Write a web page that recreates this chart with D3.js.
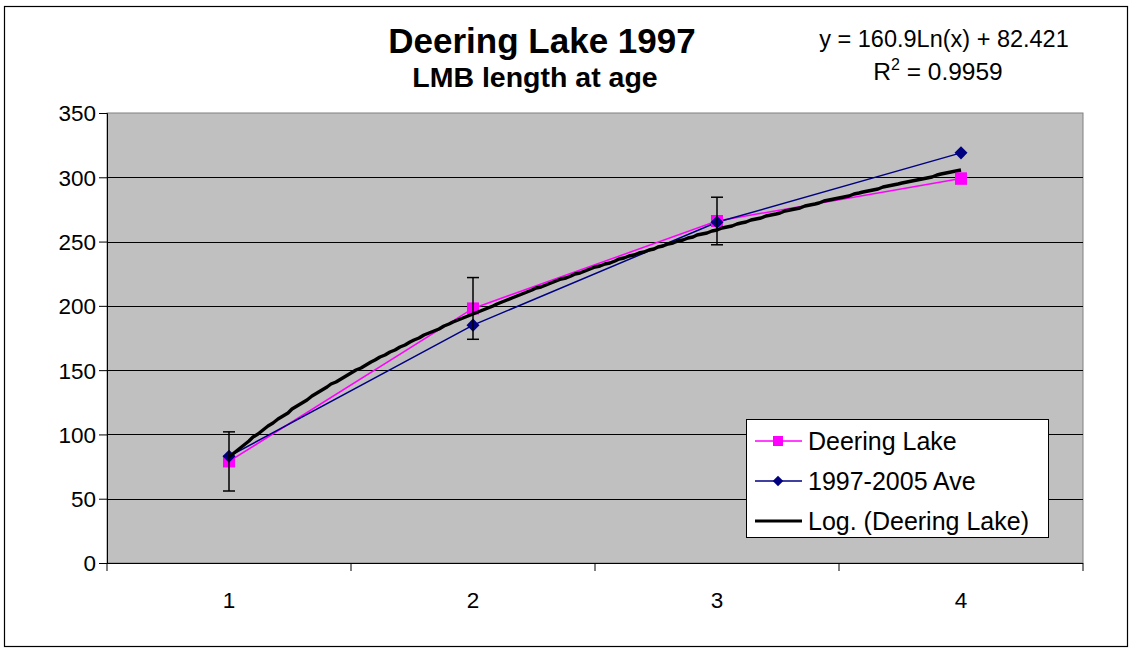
<!DOCTYPE html>
<html><head><meta charset="utf-8">
<script src="https://cdn.jsdelivr.net/npm/d3@7/dist/d3.min.js"></script>
<style>body{margin:0;background:#fff}svg{display:block}text{font-family:"Liberation Sans",Arial,sans-serif}</style>
</head><body>
<svg id="c" width="1133" height="652"></svg>
<script>
const ages = [1, 2, 3, 4];
const deering = [79, 198, 266, 299];
const deeringErr = [23, 24, 18.5, 0];
const average = [83, 185, 265, 319];
const yTicks = [0, 50, 100, 150, 200, 250, 300, 350];
const trendSlope = 160.9;
const trendIntercept = 82.421;
const titleText = "Deering Lake 1997";
const subtitleText = "LMB length at age";
const eqText = "y = 160.9Ln(x) + 82.421";
const legendLabels = ["Deering Lake", "1997-2005 Ave", "Log. (Deering Lake)"];

const svg = d3.select("#c");
const L = 107, R = 1083, T = 113, B = 563;

svg.append("rect").attr("x", 4.5).attr("y", 6.5).attr("width", 1123).attr("height", 640)
  .attr("fill", "#fff").attr("stroke", "#000").attr("stroke-width", 1.2);

const x = d3.scaleBand().domain(ages).range([L, R]);
const xc = a => x(a) + x.bandwidth() / 2;
const y = d3.scaleLinear().domain([0, 350]).range([B, T]);

svg.append("rect").attr("x", L).attr("y", T).attr("width", R - L).attr("height", B - T)
  .attr("fill", "#C0C0C0").attr("stroke", "#808080").attr("stroke-width", 1);

svg.append("g").selectAll("line").data(yTicks.filter(v => v > 0 && v < 350)).join("line")
  .attr("x1", L).attr("x2", R).attr("y1", d => Math.round(y(d)) + 0.5).attr("y2", d => Math.round(y(d)) + 0.5)
  .attr("stroke", "#000").attr("stroke-width", 1);

const yAxis = d3.axisLeft(y).tickValues(yTicks).tickSize(8).tickPadding(3);
const gy = svg.append("g").attr("transform", `translate(${L},0)`).call(yAxis);
gy.attr("font-size", null).attr("font-family", null);
gy.select(".domain").attr("stroke", "#000");
gy.selectAll(".tick line").attr("stroke", "#000");
gy.selectAll("text").style("font-size", "22.5px").attr("fill", "#000").attr("dy", "0.35em");

const gx = svg.append("g").attr("transform", `translate(0,${B})`);
gx.append("line").attr("x1", L).attr("x2", R).attr("y1", 0.5).attr("y2", 0.5).attr("stroke", "#000");
const bounds = ages.map(a => x(a)).concat([x(ages[ages.length - 1]) + x.bandwidth()]);
gx.selectAll("line.tk").data(bounds).join("line").attr("class", "tk")
  .attr("x1", d => d).attr("x2", d => d).attr("y1", 0).attr("y2", 8).attr("stroke", "#000");
gx.selectAll("text").data(ages).join("text")
  .attr("x", d => xc(d)).attr("y", 45).attr("text-anchor", "middle").style("font-size", "22.5px").text(d => d);

const line = d3.line().x((d, i) => xc(ages[i])).y(d => y(d));
svg.append("path").datum(deering).attr("d", line).attr("fill", "none").attr("stroke", "#FF00FF").attr("stroke-width", 1.5);
svg.append("path").datum(average).attr("d", line).attr("fill", "none").attr("stroke", "#000080").attr("stroke-width", 1.5);

svg.append("g").selectAll("rect").data(deering).join("rect")
  .attr("x", (d, i) => xc(ages[i]) - 6).attr("y", d => y(d) - 6).attr("width", 12).attr("height", 12).attr("fill", "#FF00FF");
svg.append("g").selectAll("path").data(average).join("path")
  .attr("transform", (d, i) => `translate(${xc(ages[i])},${y(d)}) rotate(45)`)
  .attr("d", d3.symbol().type(d3.symbolSquare).size(85)).attr("fill", "#000080");

const xs = d3.range(1, 4.0001, 0.02);
const tx = d3.scaleLinear().domain([1, 4]).range([xc(1), xc(4)]);
svg.append("path").datum(xs).attr("d", d3.line().x(d => Math.round(tx(d))).y(d => Math.round(y(trendSlope * Math.log(d) + trendIntercept))))
  .attr("fill", "none").attr("stroke", "#000").attr("stroke-width", 3.4).attr("stroke-linejoin", "round");

const eb = svg.append("g").attr("stroke", "#000").attr("stroke-width", 1.5);
deering.forEach((v, i) => {
  const cx = xc(ages[i]);
  eb.append("line").attr("x1", cx).attr("x2", cx).attr("y1", y(v - deeringErr[i])).attr("y2", y(v + deeringErr[i]));
  [v - deeringErr[i], v + deeringErr[i]].forEach(e => {
    eb.append("line").attr("x1", cx - 6).attr("x2", cx + 6).attr("y1", y(e)).attr("y2", y(e));
  });
});
svg.append("rect").attr("x", xc(4) - 6).attr("y", y(deering[3]) - 6).attr("width", 12).attr("height", 12).attr("fill", "#FF00FF");

svg.append("text").attr("x", 542).attr("y", 53).attr("text-anchor", "middle").style("font-size", "35px").attr("font-weight", "bold").text(titleText);
svg.append("text").attr("x", 535).attr("y", 87).attr("text-anchor", "middle").style("font-size", "28.5px").attr("font-weight", "bold").text(subtitleText);
svg.append("text").attr("x", 944).attr("y", 47).attr("text-anchor", "middle").style("font-size", "23.5px").text(eqText);
const r2 = svg.append("text").attr("x", 938).attr("y", 80).attr("text-anchor", "middle").style("font-size", "24.5px");
r2.append("tspan").text("R");
r2.append("tspan").style("font-size", "16px").attr("dy", -10).text("2");
r2.append("tspan").attr("dy", 10).text(" = 0.9959");

const lg = svg.append("g");
lg.append("rect").attr("x", 746.5).attr("y", 419.5).attr("width", 302).attr("height", 118).attr("fill", "#fff").attr("stroke", "#000").attr("stroke-width", 1);
const ly = [441, 481, 521];
lg.append("line").attr("x1", 755).attr("x2", 802).attr("y1", ly[0]).attr("y2", ly[0]).attr("stroke", "#FF00FF").attr("stroke-width", 1.5);
lg.append("rect").attr("x", 773).attr("y", ly[0] - 5).attr("width", 10).attr("height", 10).attr("fill", "#FF00FF");
lg.append("line").attr("x1", 755).attr("x2", 802).attr("y1", ly[1]).attr("y2", ly[1]).attr("stroke", "#000080").attr("stroke-width", 1.5);
lg.append("path").attr("transform", `translate(778,${ly[1]}) rotate(45)`).attr("d", d3.symbol().type(d3.symbolSquare).size(55)).attr("fill", "#000080");
lg.append("line").attr("x1", 755).attr("x2", 802).attr("y1", ly[2]).attr("y2", ly[2]).attr("stroke", "#000").attr("stroke-width", 3);
lg.selectAll("text").data(legendLabels).join("text").attr("x", 808).attr("y", (d, i) => ly[i] + 9).style("font-size", "25px").text(d => d);
</script>
</body></html>
